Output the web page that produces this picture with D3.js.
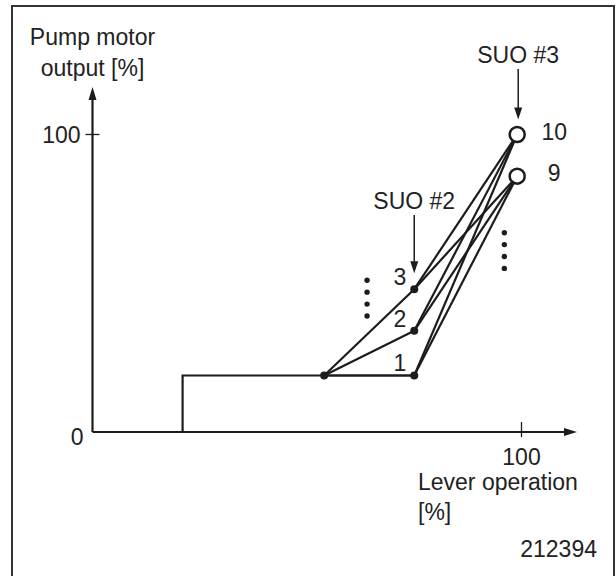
<!DOCTYPE html>
<html>
<head>
<meta charset="utf-8">
<script src="https://cdn.jsdelivr.net/npm/d3@7"></script>
<style>
  body { margin: 0; background: #fff; }
  text { font-family: "Liberation Sans", Arial, sans-serif; font-size: 23px; fill: #222; }
</style>
</head>
<body>
<div id="chart"></div>
<script>
// lever operation [%] / pump motor output [%]
var stepX = [21, 21, 54];
var stepY = [0, 19, 19];
var startPoint = [54, 19];
var suo2X = 75;
var suo2Levels = [19, 34, 48];
var suo2Labels = ['1', '2', '3'];
var suo3X = 99;
var suo3Levels = [86, 100];
var suo3Labels = ['9', '10'];
var ellipsisLeft = { x: 64, y: [51, 47, 43, 39] };
var ellipsisRight = { x: 96, y: [67, 63, 59, 55] };
var xTicks = [100];
var yTicks = [100];

var width = 616, height = 576;
var ink = '#1c1c1c';

var svg = d3.select('#chart').append('svg')
  .attr('width', width)
  .attr('height', height);

var x = d3.scaleLinear().domain([0, 100]).range([92.5, 521.5]);
var y = d3.scaleLinear().domain([0, 100]).range([432, 134.5]);

// frame
svg.append('path')
  .attr('d', 'M12,580 V6 H614 V580')
  .attr('fill', 'none')
  .attr('stroke', '#333')
  .attr('stroke-width', 2);

// axes
svg.append('line')
  .attr('x1', x(0)).attr('y1', y(0))
  .attr('x2', x(0)).attr('y2', 98)
  .attr('stroke', ink).attr('stroke-width', 2.2);
svg.append('path')
  .attr('d', 'M' + x(0) + ',87 l-4,13 h8 Z')
  .attr('fill', ink);

svg.append('line')
  .attr('x1', x(0)).attr('y1', y(0))
  .attr('x2', 566).attr('y2', y(0))
  .attr('stroke', ink).attr('stroke-width', 2.2);
svg.append('path')
  .attr('d', 'M577,' + y(0) + ' l-13,-4 v8 Z')
  .attr('fill', ink);

svg.selectAll('.ytick').data(yTicks).join('line')
  .attr('class', 'ytick')
  .attr('x1', x(0) - 7).attr('x2', x(0) + 7)
  .attr('y1', (d) => y(d)).attr('y2', (d) => y(d))
  .attr('stroke', ink).attr('stroke-width', 1.3);
svg.selectAll('.ylab').data(yTicks).join('text')
  .attr('class', 'ylab')
  .attr('x', x(0) - 12).attr('y', (d) => y(d) + 8)
  .attr('text-anchor', 'end')
  .text((d) => d);
svg.append('text')
  .attr('x', x(0) - 9).attr('y', y(0) + 13)
  .attr('text-anchor', 'end')
  .text('0');

svg.selectAll('.xtick').data(xTicks).join('line')
  .attr('class', 'xtick')
  .attr('x1', (d) => x(d)).attr('x2', (d) => x(d))
  .attr('y1', y(0) - 10).attr('y2', y(0) + 5)
  .attr('stroke', ink).attr('stroke-width', 1.3);
svg.selectAll('.xlab').data(xTicks).join('text')
  .attr('class', 'xlab')
  .attr('x', (d) => x(d)).attr('y', y(0) + 33)
  .attr('text-anchor', 'middle')
  .text((d) => d);

// axis titles
svg.append('text').attr('x', x(0)).attr('y', 45).attr('text-anchor', 'middle').text('Pump motor');
svg.append('text').attr('x', x(0)).attr('y', 76).attr('text-anchor', 'middle').text('output [%]');
svg.append('text').attr('x', 418).attr('y', 490).text('Lever operation');
svg.append('text').attr('x', 418).attr('y', 520).text('[%]');
svg.append('text').attr('x', 597).attr('y', 557).attr('text-anchor', 'end').text('212394');

// step + base line
var stepPts = stepX.map((d, i) => [x(d), y(stepY[i])]);
stepPts.push([x(suo2X), y(suo2Levels[0])]);
svg.append('path')
  .attr('d', d3.line()(stepPts))
  .attr('fill', 'none')
  .attr('stroke', ink).attr('stroke-width', 2.2);

// lines from start to SUO #2 points
svg.selectAll('.l1').data(suo2Levels).join('line')
  .attr('class', 'l1')
  .attr('x1', x(startPoint[0])).attr('y1', y(startPoint[1]))
  .attr('x2', x(suo2X)).attr('y2', (d) => y(d))
  .attr('stroke', ink).attr('stroke-width', 2.2);

// lines from SUO #2 points to SUO #3 points
var pairs = [];
suo2Levels.forEach((a) => suo3Levels.forEach((b) => pairs.push([a, b])));
svg.selectAll('.l2').data(pairs).join('line')
  .attr('class', 'l2')
  .attr('x1', x(suo2X)).attr('y1', (d) => y(d[0]))
  .attr('x2', x(suo3X)).attr('y2', (d) => y(d[1]))
  .attr('stroke', ink).attr('stroke-width', 2.2);

// points
svg.append('circle')
  .attr('cx', x(startPoint[0])).attr('cy', y(startPoint[1]))
  .attr('r', 4).attr('fill', ink);
svg.selectAll('.p2').data(suo2Levels).join('circle')
  .attr('class', 'p2')
  .attr('cx', x(suo2X)).attr('cy', (d) => y(d))
  .attr('r', 4).attr('fill', ink);
svg.selectAll('.p2lab').data(suo2Levels).join('text')
  .attr('class', 'p2lab')
  .attr('x', x(suo2X) - 8).attr('y', (d) => y(d) - 4)
  .attr('text-anchor', 'end')
  .text((d, i) => suo2Labels[i]);

svg.selectAll('.p3').data(suo3Levels).join('circle')
  .attr('class', 'p3')
  .attr('cx', x(suo3X)).attr('cy', (d) => y(d))
  .attr('r', 7.5).attr('fill', '#fff')
  .attr('stroke', ink).attr('stroke-width', 2.5);
svg.selectAll('.p3lab').data(suo3Levels).join('text')
  .attr('class', 'p3lab')
  .attr('x', x(suo3X) + 37).attr('y', (d) => y(d) + 5)
  .attr('text-anchor', 'middle')
  .text((d, i) => suo3Labels[i]);

// vertical ellipsis dots
[ellipsisLeft, ellipsisRight].forEach((e, k) => {
  svg.selectAll('.dots' + k).data(e.y).join('circle')
    .attr('class', 'dots' + k)
    .attr('cx', x(e.x)).attr('cy', (d) => y(d))
    .attr('r', 2.7).attr('fill', ink);
});

// SUO annotations
function annotate(label, px, tipY, textY) {
  svg.append('text')
    .attr('x', px).attr('y', textY)
    .attr('text-anchor', 'middle')
    .text(label);
  svg.append('line')
    .attr('x1', px).attr('y1', textY + 6)
    .attr('x2', px).attr('y2', tipY - 10)
    .attr('stroke', ink).attr('stroke-width', 1.5);
  svg.append('path')
    .attr('d', 'M' + px + ',' + tipY + ' l-4,-12 h8 Z')
    .attr('fill', ink);
}
annotate('SUO #2', x(suo2X), y(suo2Levels[2]) - 16, 209);
annotate('SUO #3', x(suo3X) + 1, y(suo3Levels[1]) - 15, 63);
</script>
</body>
</html>
